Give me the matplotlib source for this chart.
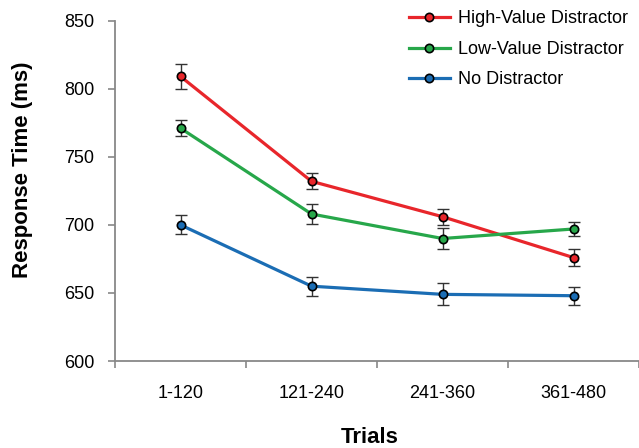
import matplotlib
matplotlib.use("Agg")
import matplotlib.pyplot as plt
import numpy as np

categories = ["1-120", "121-240", "241-360", "361-480"]
high_vals = [809, 732, 706, 676]
high_err = [9, 6, 6, 6.5]
low_vals = [771, 708, 690, 697]
low_err = [6, 7, 8, 5]
none_vals = [700, 655, 649, 648]
none_err = [7, 7, 8, 6.5]
series_names = ["High-Value Distractor", "Low-Value Distractor", "No Distractor"]
colors = ["#e8262b", "#27a74a", "#1b6db4"]

plt.rcParams['font.family'] = ['Liberation Sans', 'DejaVu Sans']

fig = plt.figure(figsize=(6.39, 4.48), dpi=100)
ax = fig.add_axes([0.18, 0.194, 0.82, 0.76])

x = np.arange(len(categories))
for vals, errs, name, c in zip([high_vals, low_vals, none_vals],
                               [high_err, low_err, none_err],
                               series_names, colors):
    ax.errorbar(x, vals, yerr=errs, fmt='none', ecolor='#333333',
                elinewidth=1, capsize=4, capthick=1, zorder=2)
    ax.plot(x, vals, color=c, lw=2.3, marker='o', markersize=6,
            markerfacecolor=c, markeredgecolor='black', markeredgewidth=1.2,
            label=name, zorder=3)

ax.set_xlim(-0.5, len(categories) - 0.5)
ax.set_ylim(600, 850)
ax.set_yticks([600, 650, 700, 750, 800, 850])
ax.set_xticks(x)
ax.set_xticklabels(categories)
ax.set_xticks(np.arange(len(categories) + 1) - 0.5, minor=True)
ax.tick_params(axis='x', which='major', length=0, pad=17, labelsize=13)
ax.tick_params(axis='x', which='minor', length=5, color='#888888', width=1.2)
ax.tick_params(axis='y', length=5, color='#888888', width=1.2, labelsize=13, pad=10)

for s in ['top', 'right']:
    ax.spines[s].set_visible(False)
for s in ['left', 'bottom']:
    ax.spines[s].set_color('#888888')
    ax.spines[s].set_linewidth(1.3)

fig.text(23 / 639, 1 - 170 / 448, "Response Time (ms)", fontsize=16, fontweight='bold',
         rotation=90, ha='center', va='center')
fig.text(370 / 639, 1 - 437 / 448, "Trials", fontsize=16, fontweight='bold',
         ha='center', va='center')

leg = ax.legend(loc='upper right', bbox_to_anchor=(1.0, 1.062), frameon=False,
                fontsize=13, handlelength=2.3, labelspacing=0.75, handletextpad=0.45,
                borderaxespad=0.2)

fig.savefig("out.png", dpi=100)
